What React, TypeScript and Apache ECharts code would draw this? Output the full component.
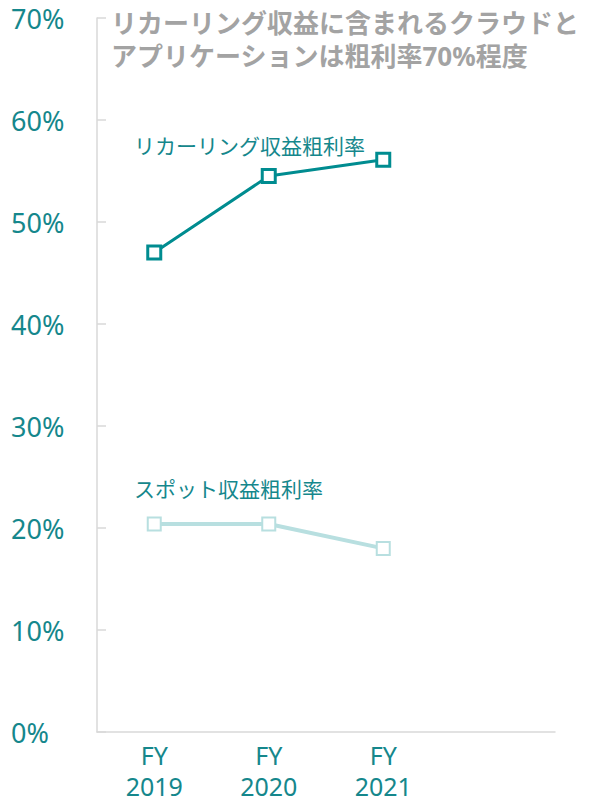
import React, { useEffect, useRef } from "react";
import * as echarts from "echarts";

const categories = ["FY\n2019", "FY\n2020", "FY\n2021", ""];
const recurringMargin = [47.0, 54.5, 56.1, null];
const spotMargin = [20.4, 20.4, 18.0, null];
const yTicks = [0, 10, 20, 30, 40, 50, 60, 70];
const titleLines = ["リカーリング収益に含まれるクラウドと", "アプリケーションは粗利率70%程度"];
const recurringName = "リカーリング収益粗利率";
const spotName = "スポット収益粗利率";

const TEAL = "#008C90";
const TEAL_TEXT = "#15878C";
const LIGHT = "#B8DFE0";
const FONT = "'Noto Sans', 'Noto Sans CJK JP', sans-serif";

export default function App() {
  const ref = useRef<HTMLDivElement>(null);
  useEffect(() => {
    const chart = echarts.init(ref.current!, null, { renderer: "svg" });
    chart.setOption({
      animation: false,
      backgroundColor: "#ffffff",
      textStyle: { fontFamily: FONT },
      grid: { left: 97, right: 38, top: 18, bottom: 70, outerBoundsMode: "none", containLabel: false },
      xAxis: {
        type: "category",
        data: categories,
        boundaryGap: true,
        axisLine: { lineStyle: { color: "#D9D9D9", width: 1.5 } },
        axisTick: { show: false },
        axisLabel: { color: TEAL_TEXT, fontSize: 25, lineHeight: 31, margin: 7, fontFamily: FONT },
      },
      yAxis: {
        type: "value",
        min: yTicks[0],
        max: yTicks[yTicks.length - 1],
        interval: 10,
        splitLine: { show: false },
        axisLine: { show: true, lineStyle: { color: "#D9D9D9", width: 1.5 } },
        axisTick: { show: true, inside: true, length: 9, lineStyle: { color: "#D9D9D9", width: 1.5 } },
        axisLabel: {
          color: TEAL_TEXT,
          fontSize: 27,
          align: "left",
          margin: 86,
          fontFamily: FONT,
          formatter: (v: number) => `${v}%`,
        },
      },
      graphic: [
        {
          type: "text",
          left: 111,
          top: 6,
          style: {
            text: titleLines.join("\n"),
            fill: "#A3A3A3",
            fontSize: 26,
            fontWeight: "bold",
            lineHeight: 33,
            fontFamily: FONT,
          },
        },
        {
          type: "text",
          left: 134,
          top: 135,
          style: { text: recurringName, fill: TEAL_TEXT, fontSize: 21, fontFamily: FONT },
        },
        {
          type: "text",
          left: 134,
          top: 478,
          style: { text: spotName, fill: TEAL_TEXT, fontSize: 21, fontFamily: FONT },
        },
      ],
      series: [
        {
          name: recurringName,
          type: "line",
          data: recurringMargin,
          symbol: "rect",
          symbolSize: 13,
          lineStyle: { color: TEAL, width: 3 },
          itemStyle: { color: "#ffffff", borderColor: TEAL, borderWidth: 3 },
          z: 3,
        },
        {
          name: spotName,
          type: "line",
          data: spotMargin,
          symbol: "rect",
          symbolSize: 13,
          lineStyle: { color: LIGHT, width: 4 },
          itemStyle: { color: "#ffffff", borderColor: LIGHT, borderWidth: 2 },
          z: 2,
        },
      ],
    });
    return () => chart.dispose();
  }, []);
  return <div ref={ref} style={{ width: 593, height: 802, position: "absolute", left: 0, top: 0 }} />;
}
